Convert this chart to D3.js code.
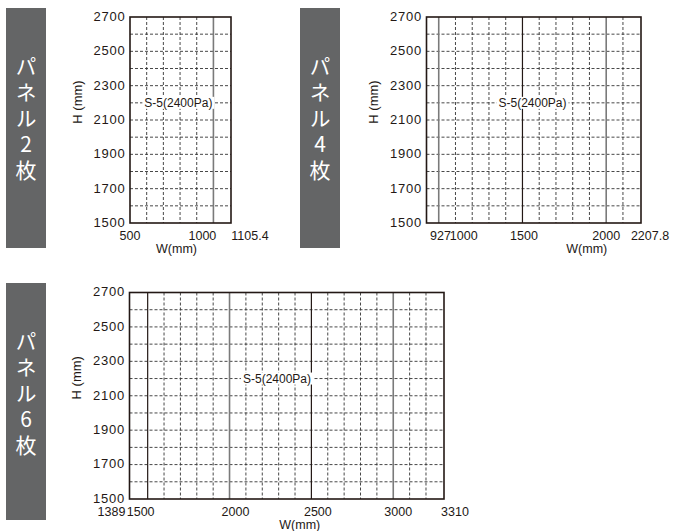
<!DOCTYPE html>
<html><head><meta charset="utf-8">
<script src="https://cdn.jsdelivr.net/npm/d3@7"></script>
<style>body{margin:0;background:#fff} svg{display:block}</style>
</head><body>
<svg id="c" width="676" height="531"></svg>
<script>
// ---- data ----
const panelTitles = ["パネル2枚", "パネル4枚", "パネル6枚"];
const wDomains = [[500, 1105.4], [927, 2207.8], [1389, 3310]];
const wTicks = [[500, 1000, 1105.4], [927, 1000, 1500, 2000, 2207.8], [1389, 1500, 2000, 2500, 3000, 3310]];
const hDomain = [1500, 2700];
const hTicks = [1500, 1700, 1900, 2100, 2300, 2500, 2700];
const seriesName = "S-5(2400Pa)";
const seriesLabelW = [790, 1560, 2290];
const seriesLabelH = 2200;
const gridStep = 100;
const majorStep = 500;
const xTitle = "W(mm)";
const yTitle = "H (mm)";

// ---- layout (positions / styles only) ----
const layout = [
  {box: [6, 8, 40, 240], plot: [130, 17, 231, 223], tickNudge: [0, -11, 19], wNudge: -4},
  {box: [300, 8, 40, 240], plot: [426.5, 17, 641, 223], tickNudge: [14, 25, 1.5, 0, 9], wNudge: 53},
  {box: [6, 283, 40, 237], plot: [129.5, 292.5, 444, 499], tickNudge: [-18, -7, 6, 6.5, 5, 11], wNudge: 13}
];
const ink = "#231815";
const font = "'Liberation Sans', Arial, sans-serif";

const svg = d3.select("#c");

panelTitles.forEach((title, i) => {
  const L = layout[i];
  const [px0, py0, px1, py1] = L.plot;
  const g = svg.append("g");

  // side box with vertical title
  const [bx, by, bw, bh] = L.box;
  g.append("rect").attr("x", bx).attr("y", by).attr("width", bw).attr("height", bh).attr("fill", "#646566");
  g.append("text").attr("x", bx + bw / 2).attr("y", by + 48)
    .style("writing-mode", "vertical-rl").style("text-orientation", "upright")
    .attr("letter-spacing", 5)
    .attr("fill", "#fff").attr("font-family", "'Noto Sans CJK JP', sans-serif")
    .attr("font-size", 21).text(title);

  const x = d3.scaleLinear().domain(wDomains[i]).range([px0, px1]);
  const y = d3.scaleLinear().domain(hDomain).range([py1, py0]);

  // horizontal dashed grid
  const hGrid = d3.range(hDomain[0] + gridStep, hDomain[1], gridStep);
  g.selectAll(".hg").data(hGrid).join("line")
    .attr("x1", px0).attr("x2", px1).attr("y1", d => y(d)).attr("y2", d => y(d))
    .attr("stroke", "#333").attr("stroke-width", 0.9).attr("stroke-dasharray", "3,2");

  // vertical grid
  const start = Math.ceil(wDomains[i][0] / gridStep) * gridStep;
  const vGrid = d3.range(start, wDomains[i][1] + 0.001, gridStep)
    .filter(d => Math.abs(x(d) - px0) > 3 && Math.abs(x(d) - px1) > 3);
  g.selectAll(".vg").data(vGrid).join("line")
    .attr("x1", d => x(d)).attr("x2", d => x(d)).attr("y1", py0).attr("y2", py1)
    .attr("stroke", d => d % majorStep === 0 ? (d % 1000 === 0 ? "#7a7a7a" : ink) : "#333")
    .attr("stroke-width", d => d % majorStep === 0 ? (d % 1000 === 0 ? 1.6 : 1.2) : 0.9)
    .attr("stroke-dasharray", d => d % majorStep === 0 ? null : "3,2");

  // frame
  g.append("rect").attr("x", px0).attr("y", py0).attr("width", px1 - px0).attr("height", py1 - py0)
    .attr("fill", "none").attr("stroke", ink).attr("stroke-width", 1.6);

  // y tick labels
  g.selectAll(".yt").data(hTicks).join("text")
    .attr("x", px0 - 4.5).attr("y", d => y(d)).attr("dy", "0.3em")
    .attr("text-anchor", "end").attr("font-family", font).attr("font-size", 13)
    .attr("letter-spacing", 0.8).attr("fill", ink).text(d => d);

  // x tick labels
  g.selectAll(".xt").data(wTicks[i]).join("text")
    .attr("x", (d, k) => x(d) + L.tickNudge[k]).attr("y", py1 + 17.3)
    .attr("text-anchor", "middle").attr("font-family", font).attr("font-size", 12.5)
    .attr("fill", ink).text(d => String(d));

  // axis titles
  g.append("text").attr("transform", `translate(${px0 - 53},${(py0 + py1) / 2 - 18}) rotate(-90)`)
    .attr("text-anchor", "middle").attr("dominant-baseline", "central")
    .attr("font-family", font).attr("font-size", 13).attr("fill", ink).text(yTitle);
  g.append("text").attr("x", (px0 + px1) / 2 + L.wNudge).attr("y", py1 + 29.5)
    .attr("text-anchor", "middle").attr("font-family", font).attr("font-size", 12.5)
    .attr("fill", ink).text(xTitle);

  // series label with white background
  const lbl = g.append("text").attr("x", x(seriesLabelW[i])).attr("y", y(seriesLabelH))
    .attr("text-anchor", "middle").attr("dominant-baseline", "central")
    .attr("font-family", font).attr("font-size", 12).attr("fill", ink).text(seriesName);
  const bb = lbl.node().getBBox();
  g.insert("rect", () => lbl.node()).attr("x", bb.x - 2).attr("y", bb.y + 1)
    .attr("width", bb.width + 4).attr("height", bb.height - 2).attr("fill", "#fff");
});
</script>
</body></html>
